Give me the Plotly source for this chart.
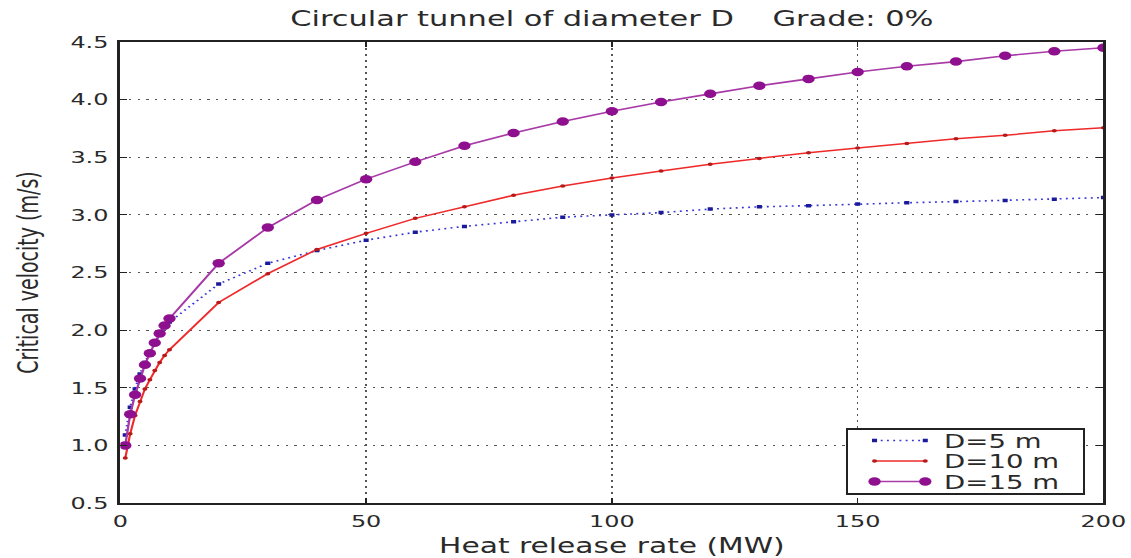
import plotly.graph_objects as go

# Heat release rate (MW)
hrr = [1, 2, 3, 4, 5, 6, 7, 8, 9, 10, 20, 30, 40, 50, 60, 70, 80, 90, 100,
       110, 120, 130, 140, 150, 160, 170, 180, 190, 200]

# Critical velocity (m/s) for each tunnel diameter
v_d5 = [1.09, 1.33, 1.49, 1.62, 1.72, 1.81, 1.89, 1.96, 2.02, 2.07,
        2.40, 2.58, 2.69, 2.78, 2.85, 2.90, 2.94, 2.98, 3.00,
        3.02, 3.05, 3.07, 3.08, 3.095, 3.105, 3.115, 3.125, 3.135, 3.15]
v_d10 = [0.89, 1.10, 1.26, 1.38, 1.49, 1.57, 1.65, 1.72, 1.78, 1.83,
         2.24, 2.49, 2.70, 2.84, 2.97, 3.07, 3.17, 3.25, 3.32,
         3.38, 3.44, 3.49, 3.54, 3.58, 3.62, 3.66, 3.69, 3.73, 3.755]
v_d15 = [1.00, 1.27, 1.44, 1.58, 1.70, 1.80, 1.89, 1.97, 2.04, 2.10,
         2.58, 2.89, 3.13, 3.31, 3.46, 3.60, 3.71, 3.81, 3.90,
         3.98, 4.05, 4.12, 4.18, 4.24, 4.29, 4.33, 4.38, 4.42, 4.45]

names = ["D=5 m", "D=10 m", "D=15 m"]

x_ticks = [0, 50, 100, 150, 200]
y_ticks = [0.5, 1.0, 1.5, 2.0, 2.5, 3.0, 3.5, 4.0, 4.5]

# The reference image is a horizontally stretched rendering; reproduce it by
# drawing a narrower figure and stretching the whole page element.
STRETCH = 1.45
PAGE_W, PAGE_H = 1131, 558
FIG_W = round(PAGE_W / STRETCH)

font_main = "DejaVu Sans, Verdana, sans-serif"
txt_color = "#2a2a2a"

fig = go.Figure()
fig.add_trace(go.Scatter(
    x=hrr, y=v_d5, name=names[0], mode="lines+markers",
    line=dict(color="#3535d8", width=1.6, dash="1.3px,3px"),
    marker=dict(symbol="square", size=3.5, color="#1a1a9a"),
))
fig.add_trace(go.Scatter(
    x=hrr, y=v_d10, name=names[1], mode="lines+markers",
    line=dict(color="#ee2a2a", width=1.5),
    marker=dict(symbol="circle", size=3.5, color="#b81818"),
))
fig.add_trace(go.Scatter(
    x=hrr, y=v_d15, name=names[2], mode="lines+markers",
    line=dict(color="#a83aa8", width=1.6),
    marker=dict(symbol="circle", size=8.5, color="#8e108e"),
))

axis_common = dict(
    showline=True, linecolor="#222", linewidth=1.8, mirror="ticks",
    ticks="inside", ticklen=5, tickcolor="#222", tickwidth=1,
    showgrid=True, gridcolor="#555", gridwidth=1, griddash="1.5px,4.5px",
    zeroline=False, tickfont=dict(family=font_main, size=16.5, color=txt_color),
)

fig.update_xaxes(
    range=[0, 200], tickvals=x_ticks, ticktext=[str(t) for t in x_ticks],
    ticklabelstandoff=2,
    title=dict(text="Heat release rate (MW)", standoff=12,
               font=dict(family=font_main, size=20.5, color=txt_color)),
    **axis_common,
)
fig.update_yaxes(
    range=[0.5, 4.5], tickvals=y_ticks, ticktext=[f"{t:.1f}" for t in y_ticks],
    ticklabelstandoff=3,
    title=dict(text="Critical velocity (m/s)", standoff=17,
               font=dict(family=font_main, size=19, color=txt_color)),
    **axis_common,
)

fig.update_layout(
    width=FIG_W, height=PAGE_H,
    margin=dict(l=83, r=FIG_W - 761, t=42, b=55, autoexpand=False),
    paper_bgcolor="white", plot_bgcolor="white",
    title=dict(text="Circular tunnel of diameter D    Grade: 0%",
               x=0.5, xref="paper", xanchor="center", y=0.967, yanchor="middle",
               font=dict(family=font_main, size=21, color=txt_color)),
    legend=dict(
        x=0.981, y=0.0174, xanchor="right", yanchor="bottom",
        bgcolor="white", bordercolor="#222", borderwidth=1.5,
        font=dict(family=font_main, size=19, color=txt_color),
        tracegroupgap=0, itemwidth=56,
    ),
    showlegend=True,
)

# legend box geometry (in un-stretched figure pixels)
LEG_TOP, LEG_ROW, LEG_BOT, LEG_W = 12, 20.5, 12, 163
LEG_L0, LEG_L1 = 18, 53

post = """
document.documentElement.style.margin = '0';
document.body.style.margin = '0';
var gd = document.getElementById('{plot_id}');
var leg = gd.querySelector('g.legend');
if (leg) {
  var RE = /translate\\(\\s*([-\\d.e]+)[\\s,]+([-\\d.e]+)\\s*\\)/;
  var inv = leg.getCTM().inverse();
  var tr = Array.prototype.slice.call(leg.querySelectorAll('g.traces'));
  var cur = tr.map(function(g){ return inv.multiply(g.getCTM()).f; });
  var bg = leg.querySelector('rect.bg');
  var h0 = parseFloat(bg.getAttribute('height'));
  var w0 = parseFloat(bg.getAttribute('width'));
  tr.forEach(function(g, i){
    var m = RE.exec(g.getAttribute('transform') || '');
    var tx = m ? parseFloat(m[1]) : 0, ty = m ? parseFloat(m[2]) : 0;
    var target = %(top)s + i * %(row)s;
    g.setAttribute('transform', 'translate(' + tx + ',' + (ty + target - cur[i]) + ')');
    g.querySelectorAll('path.js-line').forEach(function(p){
      p.setAttribute('d', 'M%(l0)s,0H%(l1)s');
    });
    g.querySelectorAll('path.scatterpts').forEach(function(p){
      p.setAttribute('transform', 'translate(%(l0)s,0)');
      var c = p.cloneNode(true);
      c.setAttribute('transform', 'translate(%(l1)s,0)');
      p.parentNode.appendChild(c);
    });
  });
  var h1 = %(top)s + (tr.length - 1) * %(row)s + %(bot)s;
  var w1 = Math.max(w0, %(w)s);
  bg.setAttribute('height', h1);
  bg.setAttribute('width', w1);
  var lm = RE.exec(leg.getAttribute('transform') || '');
  if (lm) {
    leg.setAttribute('transform', 'translate(' + (parseFloat(lm[1]) - (w1 - w0)) + ',' +
                     (parseFloat(lm[2]) + (h0 - h1)) + ')');
  }
  leg.querySelectorAll('[clip-path]').forEach(function(e){ e.removeAttribute('clip-path'); });
}
gd.style.transformOrigin = '0 0';
gd.style.transform = 'scaleX(%(s)s)';
""" % dict(top=LEG_TOP, row=LEG_ROW, bot=LEG_BOT, w=LEG_W, l0=LEG_L0, l1=LEG_L1, s=STRETCH)

fig.write_html("out.html", post_script=post, config={"displayModeBar": False})
